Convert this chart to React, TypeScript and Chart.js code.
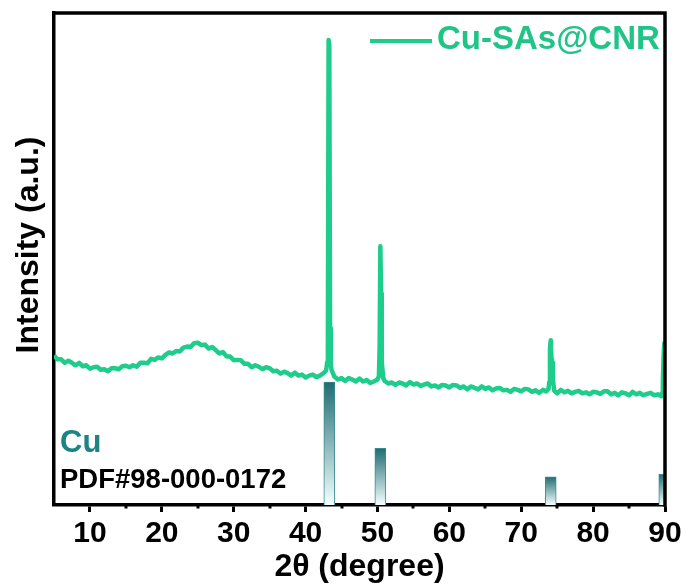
import React, { useEffect, useRef } from 'react';
import { Chart, registerables } from 'chart.js';

Chart.register(...registerables);

// XRD pattern of Cu-SAs@CNR (2θ in degrees, intensity in a.u.)
const twoTheta = [
  5.0, 5.5, 6.0, 6.5, 7.0, 7.5, 8.0, 8.5, 9.0, 9.5,
  10.0, 10.5, 11.0, 11.5, 12.0, 12.5, 13.0, 13.5, 14.0, 14.5,
  15.0, 15.5, 16.0, 16.5, 17.0, 17.5, 18.0, 18.5, 19.0, 19.5,
  20.0, 20.5, 21.0, 21.5, 22.0, 22.5, 23.0, 23.5, 24.0, 24.5,
  25.0, 25.5, 26.0, 26.5, 27.0, 27.5, 28.0, 28.5, 29.0, 29.5,
  30.0, 30.5, 31.0, 31.5, 32.0, 32.5, 33.0, 33.5, 34.0, 34.5,
  35.0, 35.5, 36.0, 36.5, 37.0, 37.5, 38.0, 38.5, 39.0, 39.5,
  40.0, 40.5, 41.0, 41.5, 42.0, 42.5,
  42.8, 42.9, 43.0, 43.1, 43.2, 43.3, 43.4, 43.5, 43.6, 43.8,
  44.0, 44.5, 45.0, 45.5, 46.0, 46.5, 47.0, 47.5, 48.0, 48.5, 49.0, 49.5, 50.0,
  50.2, 50.3, 50.4, 50.5, 50.6, 50.8,
  51.0, 51.5, 52.0, 52.5, 53.0, 53.5, 54.0, 54.5, 55.0, 55.5,
  56.0, 56.5, 57.0, 57.5, 58.0, 58.5, 59.0, 59.5, 60.0, 60.5,
  61.0, 61.5, 62.0, 62.5, 63.0, 63.5, 64.0, 64.5, 65.0, 65.5,
  66.0, 66.5, 67.0, 67.5, 68.0, 68.5, 69.0, 69.5, 70.0, 70.5,
  71.0, 71.5, 72.0, 72.5, 73.0, 73.5,
  73.8, 73.9, 74.0, 74.1, 74.2, 74.3, 74.4, 74.6,
  75.0, 75.5, 76.0, 76.5, 77.0, 77.5, 78.0, 78.5, 79.0, 79.5,
  80.0, 80.5, 81.0, 81.5, 82.0, 82.5, 83.0, 83.5, 84.0, 84.5,
  85.0, 85.5, 86.0, 86.5, 87.0, 87.5, 88.0, 88.5, 89.0, 89.5,
  89.6, 89.7, 89.8, 89.9, 90.0,
];

const intensity = [
  304, 296, 296, 289, 293, 289, 284, 289, 282, 284,
  277, 280, 281, 275, 276, 272, 278, 278, 276, 282,
  283, 280, 284, 281, 289, 289, 288, 297, 295, 300,
  298, 305, 310, 308, 313, 312, 320, 322, 321, 329,
  330, 325, 326, 318, 321, 315, 308, 311, 302, 302,
  294, 295, 294, 287, 287, 280, 284, 281, 276, 280,
  278, 272, 273, 267, 271, 268, 263, 269, 263, 265,
  259, 263, 265, 260, 263, 268,
  272, 278, 290, 330, 945, 935, 360, 290, 275, 268,
  261, 255, 258, 252, 258, 255, 251, 257, 251, 254, 248, 251, 255,
  262, 320, 526, 430, 290, 258,
  252, 247, 249, 244, 249, 247, 243, 250, 245, 247,
  242, 245, 247, 241, 243, 239, 244, 243, 239, 244,
  243, 238, 241, 235, 241, 238, 235, 241, 236, 239,
  233, 237, 238, 233, 234, 230, 236, 234, 231, 236,
  235, 230, 233, 228, 234, 231,
  236, 250, 318, 335, 300, 290, 255, 232,
  227, 234, 229, 232, 227, 230, 232, 227, 229, 225,
  230, 229, 226, 231, 231, 225, 228, 223, 229, 227,
  223, 230, 225, 228, 223, 226, 228, 223, 225, 221,
  228, 250, 300, 329, 329,
];

// Cu reference pattern, PDF#98-000-0172
const refPositions = [43.3, 50.4, 74.1, 89.9];
const refIntensity = [100, 46, 23, 25];

const xMajorTicks = [10, 20, 30, 40, 50, 60, 70, 80, 90];
const xMinorTicks = [15, 25, 35, 45, 55, 65, 75, 85];

const seriesName = 'Cu-SAs@CNR';
const refName = 'Cu';
const refCard = 'PDF#98-000-0172';

const LINE_COLOR = 'rgb(30,204,140)';
const FONT = "'Liberation Sans', Arial, sans-serif";

const decorPlugin = {
  id: 'decor',
  afterDraw(chart: any) {
    const { ctx, chartArea: a, scales } = chart;
    const x = scales.x;
    ctx.save();
    // frame (top + right)
    ctx.strokeStyle = '#000';
    ctx.lineWidth = 3.5;
    ctx.lineCap = 'square';
    ctx.beginPath();
    ctx.moveTo(a.left, a.top);
    ctx.lineTo(a.right, a.top);
    ctx.lineTo(a.right, a.bottom);
    ctx.stroke();
    // minor ticks
    ctx.lineWidth = 3;
    ctx.lineCap = 'butt';
    xMinorTicks.forEach((v) => {
      const px = Math.round(x.getPixelForValue(v));
      ctx.beginPath();
      ctx.moveTo(px, a.bottom);
      ctx.lineTo(px, a.bottom + 3.5);
      ctx.stroke();
    });
    // y title
    ctx.save();
    ctx.translate(29, 245);
    ctx.rotate(-Math.PI / 2);
    ctx.fillStyle = '#000';
    ctx.font = `bold 32px ${FONT}`;
    ctx.textAlign = 'center';
    ctx.textBaseline = 'middle';
    ctx.fillText('Intensity (a.u.)', 0, 0);
    ctx.restore();
    // legend
    ctx.strokeStyle = LINE_COLOR;
    ctx.lineWidth = 4;
    ctx.beginPath();
    ctx.moveTo(370, 41);
    ctx.lineTo(432, 41);
    ctx.stroke();
    ctx.fillStyle = 'rgb(32,196,134)';
    ctx.font = `bold 33px ${FONT}`;
    ctx.textAlign = 'left';
    ctx.textBaseline = 'alphabetic';
    ctx.fillText(seriesName, 437, 49);
    // reference labels
    ctx.fillStyle = '#1d8383';
    ctx.font = `bold 31px ${FONT}`;
    ctx.fillText(refName, 60, 452);
    ctx.fillStyle = '#000';
    ctx.font = `bold 27.5px ${FONT}`;
    ctx.fillText(refCard, 60, 488);
    ctx.restore();
  },
};

export default function App() {
  const canvasRef = useRef<HTMLCanvasElement | null>(null);

  useEffect(() => {
    const canvas = canvasRef.current;
    if (!canvas) return;
    const lineData = twoTheta.map((t, i) => ({ x: t, y: intensity[i] }));
    const barData = refPositions.map((t, i) => ({ x: t, y: refIntensity[i] }));

    const chart = new Chart(canvas, {
      type: 'line',
      data: {
        datasets: [
          {
            type: 'line',
            label: seriesName,
            data: lineData,
            xAxisID: 'x',
            yAxisID: 'y',
            borderColor: LINE_COLOR,
            borderWidth: 4.5,
            borderJoinStyle: 'round',
            pointRadius: 0,
            tension: 0,
            fill: false,
            order: 1,
          },
          {
            type: 'bar',
            label: refName,
            data: barData,
            xAxisID: 'x',
            yAxisID: 'yb',
            barThickness: 11,
            borderWidth: 1,
            borderColor: '#3a8b90',
            order: 2,
            backgroundColor: (c: any) => {
              const ch = c.chart;
              const yb = ch.scales && ch.scales.yb;
              if (!yb || !c.parsed || c.parsed.y == null) return '#2a7a80';
              const top = yb.getPixelForValue(c.parsed.y);
              const bot = yb.getPixelForValue(0);
              if (!Number.isFinite(top) || !Number.isFinite(bot) || top === bot) return '#2a7a80';
              const g = ch.ctx.createLinearGradient(0, top, 0, bot);
              g.addColorStop(0, '#1f6c73');
              g.addColorStop(1, '#f4ffff');
              return g;
            },
          } as any,
        ],
      },
      options: {
        responsive: false,
        animation: false,
        devicePixelRatio: 1,
        layout: { padding: { top: 13, right: 21, left: 0, bottom: 0 } },
        plugins: {
          legend: { display: false },
          tooltip: { enabled: false },
        },
        scales: {
          x: {
            type: 'linear',
            min: 5,
            max: 90,
            offset: false,
            afterBuildTicks: (s: any) => {
              s.ticks = xMajorTicks.map((v) => ({ value: v }));
            },
            afterFit: (s: any) => {
              s.height = 81;
            },
            grid: {
              offset: false,
              drawOnChartArea: false,
              drawTicks: true,
              tickLength: 7,
              tickWidth: 3,
              tickColor: '#000',
            },
            border: { display: true, color: '#000', width: 3.5 },
            ticks: {
              color: '#000',
              font: { family: FONT, size: 30, weight: 'bold' },
              padding: 4,
              maxRotation: 0,
              autoSkip: false,
            },
            title: {
              display: true,
              text: '2θ (degree)',
              color: '#000',
              font: { family: FONT, size: 32, weight: 'bold' },
              padding: { top: 0, bottom: 0 },
            },
          },
          y: {
            type: 'linear',
            position: 'left',
            min: 0,
            max: 1000,
            afterFit: (s: any) => {
              s.width = 54;
            },
            grid: { drawOnChartArea: false, drawTicks: false },
            border: { display: true, color: '#000', width: 3.5 },
            ticks: { display: false },
          },
          yb: {
            type: 'linear',
            display: false,
            min: 0,
            max: 400,
          },
        },
      } as any,
      plugins: [decorPlugin],
    });

    return () => chart.destroy();
  }, []);

  return (
    <div style={{ position: 'absolute', left: 0, top: 0, width: 686, height: 586, background: '#fff' }}>
      <canvas ref={canvasRef} width={686} height={586} style={{ display: 'block' }} />
    </div>
  );
}
